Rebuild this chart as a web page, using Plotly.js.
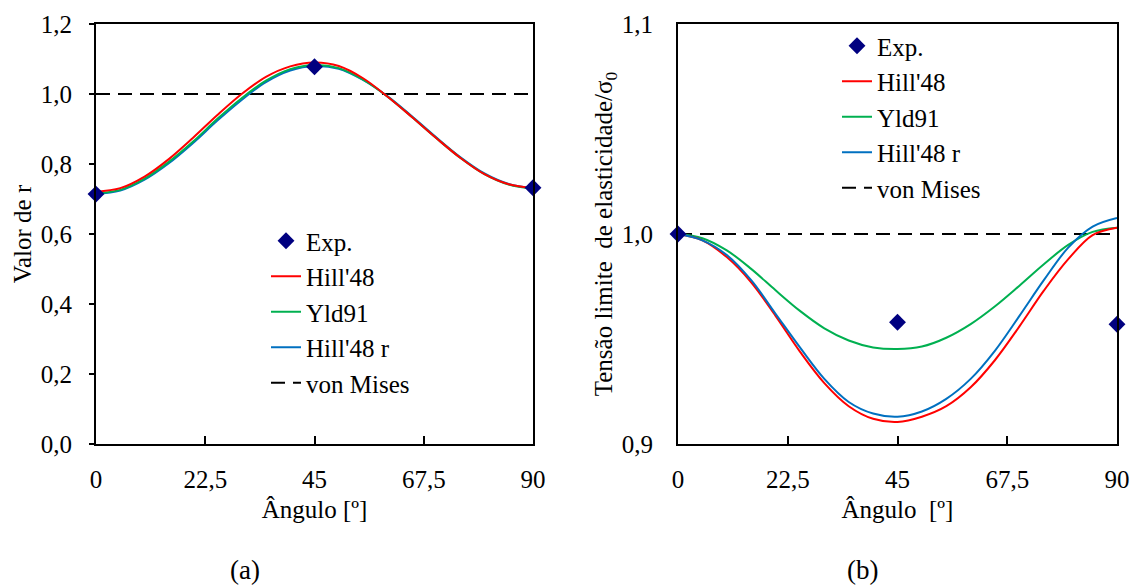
<!DOCTYPE html>
<html>
<head>
<meta charset="utf-8">
<script src="https://cdn.plot.ly/plotly-3.0.1.min.js"></script>
<style>html,body{margin:0;padding:0;background:#fff;}#chart{width:1136px;height:585px;}</style>
</head>
<body>
<div id="chart"></div>
<script>
// ---- data ----
const angles = [0,5,10,15,20,25,30,35,40,45,50,55,60,65,70,75,80,85,90];
const expAngles = [0,45,90];
const tickVals = [0,22.5,45,67.5,90];
const tickText = ["0","22,5","45","67,5","90"];
const seriesNames = ["Exp.","Hill'48","Yld91","Hill'48 r","von Mises"];

// (a) r-value
const rExp      = [0.714, 1.078, 0.732];
const rHill48   = [0.721,0.731,0.764,0.814,0.875,0.940,1.000,1.049,1.079,1.090,1.080,1.045,0.993,0.935,0.875,0.818,0.771,0.742,0.731];
const rYld91    = [0.716,0.726,0.758,0.806,0.864,0.929,0.988,1.038,1.071,1.083,1.074,1.041,0.993,0.935,0.875,0.818,0.771,0.741,0.729];
const rHill48r  = [0.714,0.724,0.755,0.802,0.860,0.924,0.983,1.034,1.067,1.080,1.072,1.040,0.994,0.937,0.877,0.820,0.773,0.743,0.731];
const vmAngles  = [0,90];
const rVonMises = [1.0,1.0];

// (b) normalised yield stress
const sExp      = [1.000, 0.958, 0.957];
const sHill48   = [1.000,0.997,0.989,0.977,0.961,0.944,0.929,0.918,0.912,0.9105,0.913,0.918,0.927,0.940,0.956,0.973,0.988,0.9995,1.003];
const sYld91    = [1.000,0.998,0.9922,0.9834,0.9732,0.9634,0.9551,0.9493,0.946,0.9452,0.9464,0.9506,0.9571,0.9656,0.9754,0.9856,0.9948,1.001,1.003];
const sHill48r  = [1.000,0.997,0.990,0.978,0.962,0.946,0.931,0.920,0.9145,0.913,0.9155,0.9215,0.931,0.9445,0.961,0.978,0.9935,1.0035,1.0076];
const sVonMises = [1.0,1.0];

// ---- styles ----
const FONT = "'Liberation Serif', 'Times New Roman', serif";
const C_EXP = "#000080", C_RED = "#FF0000", C_GREEN = "#00B050", C_BLUE = "#0070C0";

function lineTrace(x, y, name, color, xa, ya, leg, rank, dash) {
  return {x: x, y: y, name: name, type: "scatter", mode: "lines",
    line: {color: color, width: 2, shape: dash ? "linear" : "spline", smoothing: 1, dash: dash || "solid"},
    xaxis: xa, yaxis: ya, legend: leg, legendrank: rank, legendgroup: leg + name, hoverinfo: "x+y"};
}
function expTrace(x, y, xa, ya, leg) {
  return {x: x, y: y, name: seriesNames[0], type: "scatter", mode: "markers",
    marker: {symbol: "diamond", size: 13, color: C_EXP}, cliponaxis: false,
    xaxis: xa, yaxis: ya, legend: leg, legendrank: 1, legendgroup: leg + "exp"};
}

const traces = [
  lineTrace(vmAngles, rVonMises, seriesNames[4], "#000000", "x", "y", "legend", 5, "14px,8px"),
  lineTrace(angles, rHill48r, seriesNames[3], C_BLUE, "x", "y", "legend", 4),
  lineTrace(angles, rYld91, seriesNames[2], C_GREEN, "x", "y", "legend", 3),
  lineTrace(angles, rHill48, seriesNames[1], C_RED, "x", "y", "legend", 2),
  expTrace(expAngles, rExp, "x", "y", "legend"),
  lineTrace(vmAngles, sVonMises, seriesNames[4], "#000000", "x2", "y2", "legend2", 5, "14px,8px"),
  lineTrace(angles, sYld91, seriesNames[2], C_GREEN, "x2", "y2", "legend2", 3),
  lineTrace(angles, sHill48, seriesNames[1], C_RED, "x2", "y2", "legend2", 2),
  lineTrace(angles, sHill48r, seriesNames[3], C_BLUE, "x2", "y2", "legend2", 4),
  expTrace(expAngles, sExp, "x2", "y2", "legend2")
];

const W = 1136, H = 585;
const axCommon = {showline: true, mirror: true, linecolor: "#000", linewidth: 2,
  showgrid: false, zeroline: false, tickcolor: "#000", tickwidth: 2,
  tickfont: {family: FONT, size: 25, color: "#000"}};
const xCommon = Object.assign({}, axCommon, {range: [0, 90], tickmode: "array",
  tickvals: tickVals, ticktext: tickText, ticks: "inside", ticklen: 8, ticklabelstandoff: 12});
const yDom = [1 - 444 / H, 1 - 24 / H];
const legCommon = {font: {family: FONT, size: 25, color: "#000"}, bgcolor: "rgba(0,0,0,0)",
  tracegroupgap: 2, xanchor: "left", yanchor: "top", traceorder: "normal"};

const layout = {
  width: W, height: H, margin: {l: 0, r: 0, t: 0, b: 0},
  paper_bgcolor: "#fff", plot_bgcolor: "#fff", separators: ", ",
  font: {family: FONT, size: 25, color: "#000"},
  xaxis: Object.assign({}, xCommon, {domain: [96 / W, 533 / W], anchor: "y",
    title: {text: "Ângulo [º]", font: {family: FONT, size: 25, color: "#000"}, standoff: 8}}),
  yaxis: Object.assign({}, axCommon, {domain: yDom, anchor: "x", range: [0, 1.2], dtick: 0.2,
    tickformat: ".1f", ticks: "outside", ticklen: 5, ticklabelstandoff: 12,
    title: {text: "Valor de r", font: {family: FONT, size: 25, color: "#000"}, standoff: 2}}),
  xaxis2: Object.assign({}, xCommon, {domain: [678 / W, 1117 / W], anchor: "y2",
    title: {text: "Ângulo&nbsp; [º]", font: {family: FONT, size: 25, color: "#000"}, standoff: 8}}),
  yaxis2: Object.assign({}, axCommon, {domain: yDom, anchor: "x2", range: [0.9, 1.1], dtick: 0.1,
    tickformat: ".1f", ticks: "", ticklabelstandoff: 18,
    title: {text: "Tensão limite&nbsp; de elasticidade/σ<sub>0</sub>", font: {family: FONT, size: 25, color: "#000"}, standoff: 2}}),
  legend: Object.assign({}, legCommon, {x: 266 / W, y: 1 - 218 / H}),
  legend2: Object.assign({}, legCommon, {x: 837 / W, y: 1 - 23 / H}),
  annotations: [
    {text: "(a)", x: 245 / W, y: 1 - 570 / H, xref: "paper", yref: "paper", showarrow: false,
     font: {family: FONT, size: 27, color: "#000"}, xanchor: "center", yanchor: "middle"},
    {text: "(b)", x: 862 / W, y: 1 - 570 / H, xref: "paper", yref: "paper", showarrow: false,
     font: {family: FONT, size: 27, color: "#000"}, xanchor: "center", yanchor: "middle"}
  ]
};

Plotly.newPlot("chart", traces, layout, {displayModeBar: false, staticPlot: true});
</script>
</body>
</html>
